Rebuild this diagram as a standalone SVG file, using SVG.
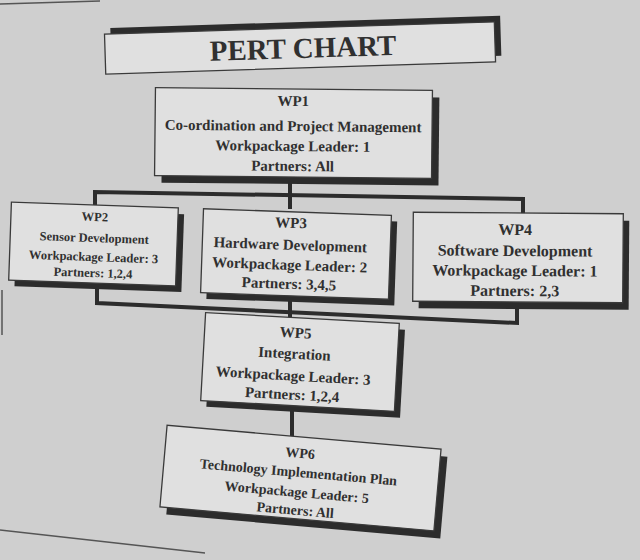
<svg xmlns="http://www.w3.org/2000/svg" width="640" height="560" viewBox="0 0 640 560">
<defs>
<style>
.bg{fill:#cfcfcf}
.box{fill:#e0e0e0;stroke:#3a3a3a;stroke-width:1.3}
.sh{fill:#2c2c2c}
.t{font-family:"Liberation Serif","Times New Roman",serif;font-weight:bold;fill:#303030;text-anchor:middle}
.conn{fill:none;stroke:#2c2c2c;stroke-width:4;stroke-linejoin:miter}
.edge{fill:none;stroke:#555;stroke-width:1.5}
</style>
</defs>
<rect class="bg" x="0" y="0" width="640" height="560"/>
<line class="edge" x1="0" y1="4" x2="100" y2="1"/>
<line class="edge" x1="0" y1="530" x2="205" y2="553"/>
<line class="edge" x1="2" y1="290" x2="2" y2="335"/>

<g id="connectors">
<line class="conn" x1="290" y1="182" x2="290" y2="209"/>
<polyline class="conn" points="95,205 95,192 523,199 523,214"/>
<polyline class="conn" points="97,289 97,303 517,323 517,308"/>
<line class="conn" x1="290" y1="300" x2="290" y2="320"/>
<line class="conn" x1="292" y1="408" x2="292" y2="437"/>
</g>

<g id="title" transform="rotate(-1.8 300 47)">
<rect class="sh" x="111" y="22" width="390" height="40"/>
<rect class="box" x="105" y="28" width="390" height="40"/>
<text class="t" x="303" y="58" font-size="29">PERT CHART</text>
</g>

<g id="wp1" transform="rotate(0.6 293 133)">
<rect class="sh" x="162" y="96" width="277" height="88"/>
<rect class="box" x="155" y="89" width="277" height="88"/>
<text class="t" x="293" y="106" font-size="15">WP1</text>
<text class="t" x="293" y="131" font-size="15">Co-ordination and Project Management</text>
<text class="t" x="293" y="151" font-size="15">Workpackage Leader: 1</text>
<text class="t" x="293" y="171" font-size="15">Partners: All</text>
</g>

<g id="wp2" transform="rotate(2 93 244)">
<rect class="sh" x="16" y="211" width="167" height="78"/>
<rect class="box" x="10" y="205" width="167" height="78"/>
<text class="t" x="94" y="221" font-size="12.5">WP2</text>
<text class="t" x="94" y="242" font-size="12.5">Sensor Development</text>
<text class="t" x="94" y="261" font-size="12.5">Workpackage Leader: 3</text>
<text class="t" x="94" y="277" font-size="12.5">Partners: 1,2,4</text>
</g>

<g id="wp3" transform="rotate(2 296 254)">
<rect class="sh" x="208" y="218" width="188" height="84"/>
<rect class="box" x="202" y="212" width="188" height="84"/>
<text class="t" x="290" y="228" font-size="15">WP3</text>
<text class="t" x="290" y="250" font-size="15">Hardware Development</text>
<text class="t" x="290" y="270" font-size="15">Workpackage Leader: 2</text>
<text class="t" x="290" y="289" font-size="15">Partners: 3,4,5</text>
</g>

<g id="wp4" transform="rotate(0.4 518 258)">
<rect class="sh" x="419" y="220" width="210" height="89"/>
<rect class="box" x="413" y="213" width="210" height="89"/>
<text class="t" x="515" y="235" font-size="16">WP4</text>
<text class="t" x="515" y="256" font-size="16">Software Development</text>
<text class="t" x="515" y="276" font-size="16">Workpackage Leader: 1</text>
<text class="t" x="515" y="296" font-size="16">Partners: 2,3</text>
</g>

<g id="wp5" transform="rotate(3.2 300 362)">
<rect class="sh" x="209" y="324" width="194" height="88"/>
<rect class="box" x="203" y="318" width="194" height="88"/>
<text class="t" x="294" y="338" font-size="15">WP5</text>
<text class="t" x="294" y="359" font-size="15">Integration</text>
<text class="t" x="294" y="381" font-size="15">Workpackage Leader: 3</text>
<text class="t" x="294" y="400" font-size="15">Partners: 1,2,4</text>
</g>

<g id="wp6" transform="rotate(5 300 478)">
<rect class="sh" x="170" y="444" width="275" height="82"/>
<rect class="box" x="163" y="437" width="275" height="82"/>
<text class="t" x="298" y="458" font-size="14">WP6</text>
<text class="t" x="298" y="477" font-size="14">Technology Implementation Plan</text>
<text class="t" x="298" y="497" font-size="14">Workpackage Leader: 5</text>
<text class="t" x="298" y="515" font-size="14">Partners: All</text>
</g>
</svg>
